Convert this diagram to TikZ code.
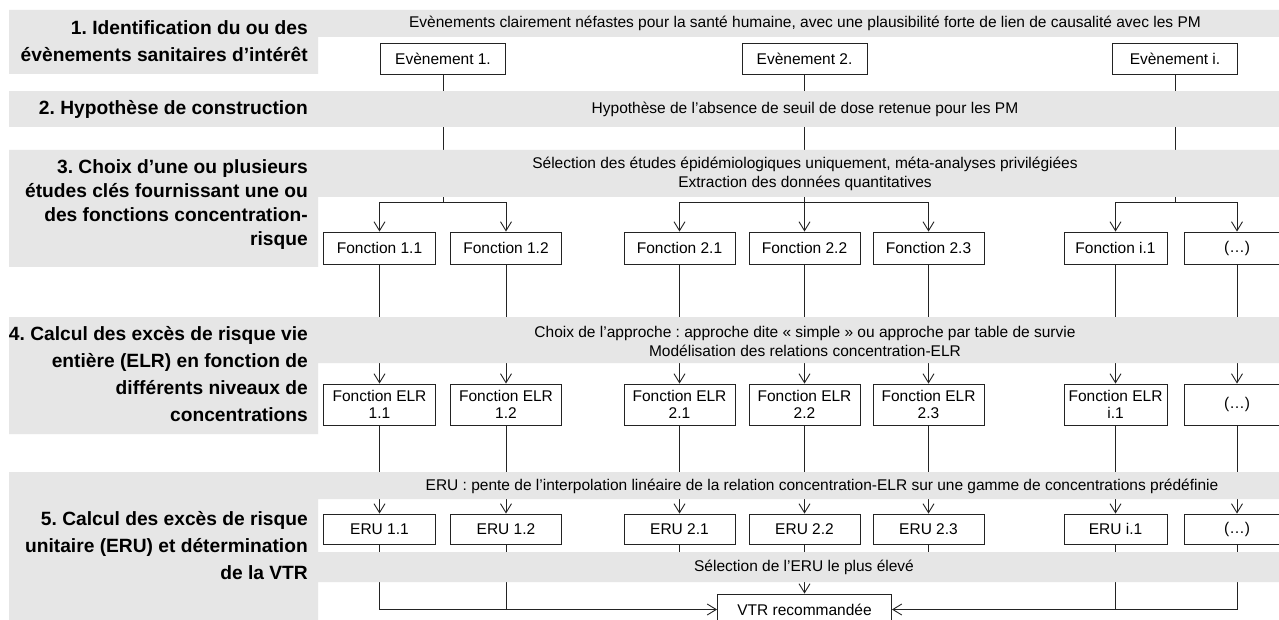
\documentclass[tikz,border=0pt]{standalone}
\usepackage{fontspec}
\setmainfont{Liberation Sans}
\usetikzlibrary{arrows.meta}
\frenchspacing
\definecolor{band}{RGB}{230,230,230}
\definecolor{ink}{RGB}{35,35,35}
\pgfdeclarelayer{bg}
\pgfdeclarelayer{lines}
\pgfdeclarelayer{bands}
\pgfsetlayers{bg,lines,bands,main}
\begin{document}
\begin{tikzpicture}[x=1pt,y=-1pt,
  body/.style={font=\fontsize{15.5}{18.6}\selectfont, inner sep=0pt, align=center, text=black},
  ttl/.style={font=\fontsize{19.2}{27}\selectfont\bfseries, inner sep=0pt, align=right, anchor=east, text=black},
  bx/.style={draw=ink, line width=0.9pt, fill=white, font=\fontsize{15.5}{17}\selectfont, inner sep=0pt, align=center},
  evbox/.style={bx, minimum width=125pt, minimum height=31pt},
  fbox/.style={bx, minimum width=111pt, minimum height=32pt},
  lbox/.style={bx, minimum width=111pt, minimum height=41pt},
  ubox/.style={bx, minimum width=111pt, minimum height=30pt},
  conn/.style={draw=ink, line width=1pt},
  arr/.style={conn, -{Straight Barb[length=9pt,width=11pt,line width=0.9pt]}}
]
\useasboundingbox (0,0) rectangle (1279,620);
\clip (0,0) rectangle (1279,620);
\begin{pgfonlayer}{bg}
\fill[white] (0,0) rectangle (1279,620);
\end{pgfonlayer}

% ---------- bands ----------
\begin{pgfonlayer}{bands}
\fill[band] (9,10) -- (1279,10) -- (1279,37) -- (318,37) -- (318,74) -- (9,74) -- cycle;
\fill[band] (9,91) rectangle (1279,127);
\fill[band] (9,150) -- (1279,150) -- (1279,197) -- (318,197) -- (318,267) -- (9,267) -- cycle;
\fill[band] (9,317) -- (1279,317) -- (1279,363) -- (318,363) -- (318,434) -- (9,434) -- cycle;
\fill[band] (9,472) -- (1279,472) -- (1279,499) -- (318,499) -- (318,552) -- (1279,552) -- (1279,582) -- (318,582) -- (318,620) -- (9,620) -- cycle;
\end{pgfonlayer}

% ---------- titles ----------
\node[ttl] (h1) at (308,41.5) {1. Identification du ou des\\évènements sanitaires d’intérêt};
\node[ttl] (h2) at (308,109) {2. Hypothèse de construction};
\node[ttl, font=\fontsize{19.2}{24}\selectfont\bfseries] (h3) at (308,205) {3. Choix d’une ou plusieurs\\études clés fournissant une ou\\des fonctions concentration-\\risque};
\node[ttl] (h4) at (308,374) {4. Calcul des excès de risque vie\\entière (ELR) en fonction de\\différents niveaux de\\concentrations};
\node[ttl] (h5) at (308,546) {5. Calcul des excès de risque\\unitaire (ERU) et détermination\\de la VTR};

% ---------- band texts ----------
\node[body] (t1) at (805,23) {Evènements clairement néfastes pour la santé humaine, avec une plausibilité forte de lien de causalité avec les PM};
\node[body] (t2) at (805,109.5) {Hypothèse de l{\char"0027}absence de seuil de dose retenue pour les PM};
\node[body, font=\fontsize{15.5}{19}\selectfont] (t3) at (805,174) {Sélection des études épidémiologiques uniquement, méta-analyses privilégiées\\Extraction des données quantitatives};
\node[body, font=\fontsize{15.5}{19}\selectfont] (t4) at (805,341) {Choix de l’approche : approche dite « simple » ou approche par table de survie\\Modélisation des relations concentration-ELR};
\node[body] (t5) at (822,486.5) {ERU : pente de l’interpolation linéaire de la relation concentration-ELR sur une gamme de concentrations prédéfinie};
\node[body] (t6) at (804,567.5) {Sélection de l’ERU le plus élevé};

% ---------- events ----------
\node[evbox] (ev1) at (443,58.5) {Evènement 1.};
\node[evbox] (ev2) at (804.5,58.5) {Evènement 2.};
\node[evbox] (evi) at (1175,58.5) {Evènement i.};

% ---------- functions ----------
\node[fbox, minimum width=112pt] (f11) at (379.5,248) {Fonction 1.1};
\node[fbox] (f12) at (506,248) {Fonction 1.2};
\node[fbox] (f21) at (679.5,248) {Fonction 2.1};
\node[fbox] (f22) at (804.5,248) {Fonction 2.2};
\node[fbox] (f23) at (928.5,248) {Fonction 2.3};
\node[fbox, minimum width=103pt] (fi1) at (1115.5,248) {Fonction i.1};
\node[fbox, minimum width=106pt] (fx) at (1237,248) {(…)};

% ---------- ELR ----------
\node[lbox, minimum width=112pt] (l11) at (379.5,404.5) {Fonction ELR\\1.1};
\node[lbox] (l12) at (506,404.5) {Fonction ELR\\1.2};
\node[lbox] (l21) at (679.5,404.5) {Fonction ELR\\2.1};
\node[lbox] (l22) at (804.5,404.5) {Fonction ELR\\2.2};
\node[lbox] (l23) at (928.5,404.5) {Fonction ELR\\2.3};
\node[lbox, minimum width=103pt] (li1) at (1115.5,404.5) {Fonction ELR\\i.1};
\node[lbox, minimum width=106pt] (lx) at (1237,404.5) {(…)};

% ---------- ERU ----------
\node[ubox, minimum width=112pt] (u11) at (379.5,529) {ERU 1.1};
\node[ubox] (u12) at (506,529) {ERU 1.2};
\node[ubox] (u21) at (679.5,529) {ERU 2.1};
\node[ubox] (u22) at (804.5,529) {ERU 2.2};
\node[ubox] (u23) at (928.5,529) {ERU 2.3};
\node[ubox, minimum width=103pt] (ui1) at (1115.5,529) {ERU i.1};
\node[ubox, minimum width=106pt] (ux) at (1237,529) {(…)};

% ---------- VTR ----------
\node[bx, minimum width=174pt, minimum height=31pt] (vtr) at (804.5,609.5) {VTR recommandée};

% ---------- coordinates ----------
\coordinate (b1) at (443,203);
\coordinate (b2) at (804.5,203);
\coordinate (bi) at (1175,203);
\coordinate (s21) at (679.5,567);
\coordinate (s23) at (928.5,567);

% ---------- connectors ----------
\begin{pgfonlayer}{lines}
\draw[conn] (ev1.south) -- (b1);
\draw[conn] (ev2.south) -- (b2);
\draw[conn] (evi.south) -- (bi);
\draw[arr] (b1) -| (f11.north);
\draw[arr] (b1) -| (f12.north);
\draw[arr] (b2) -| (f21.north);
\draw[arr] (b2) -- (f22.north);
\draw[arr] (b2) -| (f23.north);
\draw[arr] (bi) -| (fi1.north);
\draw[arr] (bi) -| (fx.north);
\foreach \a/\b in {f11/l11,f12/l12,f21/l21,f22/l22,f23/l23,fi1/li1,fx/lx,
                   l11/u11,l12/u12,l21/u21,l22/u22,l23/u23,li1/ui1,lx/ux}
  {\draw[arr] (\a.south) -- (\b.north);}
\draw[arr] (u11.south) |- (vtr.west);
\draw[conn] (u12.south) -- (u12.south |- vtr.west);
\draw[arr] (ux.south) |- (vtr.east);
\draw[conn] (ui1.south) -- (ui1.south |- vtr.east);
\draw[arr] (u22.south) -- (vtr.north);
\draw[conn] (u21.south) -- (s21);
\draw[conn] (u23.south) -- (s23);
\end{pgfonlayer}
\end{tikzpicture}
\end{document}
